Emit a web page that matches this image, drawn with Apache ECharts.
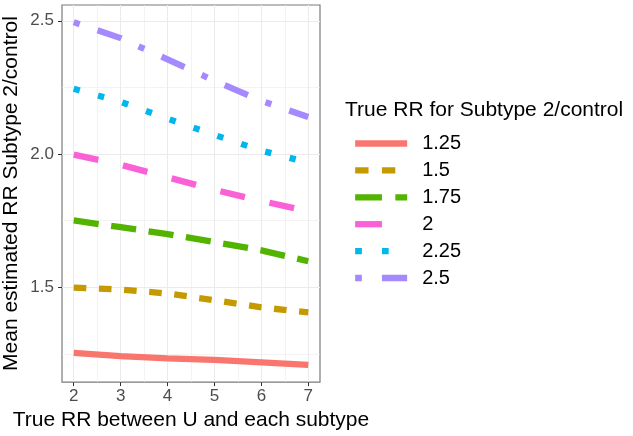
<!DOCTYPE html>
<html>
<head>
<meta charset="utf-8">
<script src="https://cdn.jsdelivr.net/npm/echarts@6/dist/echarts.min.js"></script>
<style>
html,body{margin:0;padding:0;background:#fff;}
#c{width:633px;height:436px;}
</style>
</head>
<body>
<div id="c"></div>
<script>
// ---- data ----
var xVals = [2, 3, 4, 5, 6, 7];
var seriesNames = ['1.25', '1.5', '1.75', '2', '2.25', '2.5'];
var rr125 = [1.254, 1.242, 1.234, 1.228, 1.219, 1.209];
var rr150 = [1.499, 1.492, 1.477, 1.452, 1.425, 1.406];
var rr175 = [1.751, 1.726, 1.700, 1.670, 1.639, 1.598];
var rr200 = [1.998, 1.960, 1.913, 1.866, 1.824, 1.786];
var rr225 = [2.245, 2.196, 2.133, 2.072, 2.013, 1.968];
var rr250 = [2.495, 2.435, 2.355, 2.275, 2.200, 2.139];
var xTicks = [2, 3, 4, 5, 6, 7];
var xMinor = [2.5, 3.5, 4.5, 5.5, 6.5];
var yTicks = [1.5, 2.0, 2.5];
var yMinor = [1.25, 1.75, 2.25];
var xTitle = 'True RR between U and each subtype';
var yTitle = 'Mean estimated RR Subtype 2/control';
var legendTitle = 'True RR for Subtype 2/control';

var allY = [rr125, rr150, rr175, rr200, rr225, rr250];
var colors = ['#F8766D', '#C49A00', '#53B400', '#FB61D7', '#00B6EB', '#A58AFF'];
var dashUnits = [null, [2, 2], [4, 2], [4, 4], [1, 3], [1, 3, 4, 3]];
function dashOf(i, unit) {
  return dashUnits[i] ? dashUnits[i].map(function (d) { return d * unit; }) : 'solid';
}
var u = 6.3;   // plot line width / dash unit
var lu = 6.7;  // legend key dash unit

var flat = [].concat.apply([], allY);
var dMin = Math.min.apply(null, flat), dMax = Math.max.apply(null, flat);
var yr = dMax - dMin;
var yMin = dMin - 0.05 * yr, yMax = dMax + 0.05 * yr;
var xr = xVals[xVals.length-1] - xVals[0];
var xMin = xVals[0] - 0.05 * xr, xMax = xVals[xVals.length-1] + 0.05 * xr;

var FONT = 'Liberation Sans';
var series = allY.map(function (arr, i) {
  return {
    name: seriesNames[i],
    type: 'line',
    xAxisIndex: 0, yAxisIndex: 0,
    data: xVals.map(function (x, j) { return [x, arr[j]]; }),
    symbol: 'none',
    showSymbol: false,
    silent: true,
    animation: false,
    lineStyle: { color: colors[i], width: u, type: dashOf(i, u), cap: 'butt' },
    itemStyle: { color: colors[i] },
    z: 3
  };
});

var legendData = seriesNames.map(function (n, i) {
  return { name: n, lineStyle: { width: u, type: dashOf(i, lu), color: colors[i] } };
});

var chart = echarts.init(document.getElementById('c'), null, { renderer: 'canvas' });
chart.setOption({
  animation: false,
  backgroundColor: '#ffffff',
  color: colors,
  title: {
    text: legendTitle,
    left: 345, top: 100, padding: 0,
    textStyle: { fontFamily: FONT, fontSize: 21, fontWeight: 'normal', color: '#000' }
  },
  legend: {
    orient: 'vertical',
    left: 352, top: 133.5, padding: 0,
    itemWidth: 52, itemHeight: 20, itemGap: 6.9,
    data: legendData,
    selectedMode: false,
    lineStyle: { width: u },
    itemStyle: { opacity: 0 },
    textStyle: { fontFamily: FONT, fontSize: 20, color: '#000', padding: [0, 0, 0, 10] }
  },
  grid: {
    left: 62, right: 313, top: 5, bottom: 53,
    show: true, borderColor: '#7A7A7A', borderWidth: 1.2, backgroundColor: '#fff',
    containLabel: false
  },
  xAxis: [{
    type: 'value', min: xMin, max: xMax, minInterval: 1, maxInterval: 1,
    name: xTitle, nameLocation: 'middle', nameGap: 27,
    nameTextStyle: { fontFamily: FONT, fontSize: 21, color: '#000' },
    axisLine: { show: false },
    axisTick: { show: true, length: 4, lineStyle: { color: '#333' }, customValues: xTicks },
    axisLabel: { show: true, margin: 6, fontFamily: FONT, fontSize: 17, color: '#4D4D4D', customValues: xTicks },
    splitLine: { show: true, lineStyle: { color: '#EBEBEB', width: 1 } },
    z: 1
  }, {
    type: 'value', min: xMin, max: xMax, minInterval: 0.5, maxInterval: 0.5,
    position: 'bottom',
    axisLine: { show: false },
    axisTick: { show: false, customValues: xMinor },
    axisLabel: { show: false },
    splitLine: { show: true, lineStyle: { color: '#EBEBEB', width: 0.6 } },
    z: 0
  }],
  yAxis: [{
    type: 'value', min: yMin, max: yMax, minInterval: 0.5, maxInterval: 0.5,
    name: yTitle, nameLocation: 'middle', nameGap: 40,
    nameTextStyle: { fontFamily: FONT, fontSize: 21, color: '#000' },
    axisLine: { show: false },
    axisTick: { show: true, length: 4, lineStyle: { color: '#333' }, customValues: yTicks },
    axisLabel: { show: true, margin: 8, fontFamily: FONT, fontSize: 17, color: '#4D4D4D', customValues: yTicks,
      formatter: function (v) { return v.toFixed(1); } },
    splitLine: { show: true, lineStyle: { color: '#EBEBEB', width: 1 } },
    z: 1
  }, {
    type: 'value', min: yMin, max: yMax, minInterval: 0.25, maxInterval: 0.25,
    position: 'left',
    axisLine: { show: false },
    axisTick: { show: false, customValues: yMinor },
    axisLabel: { show: false },
    splitLine: { show: true, lineStyle: { color: '#EBEBEB', width: 0.6 } },
    z: 0
  }],
  series: series
});
</script>
</body>
</html>
